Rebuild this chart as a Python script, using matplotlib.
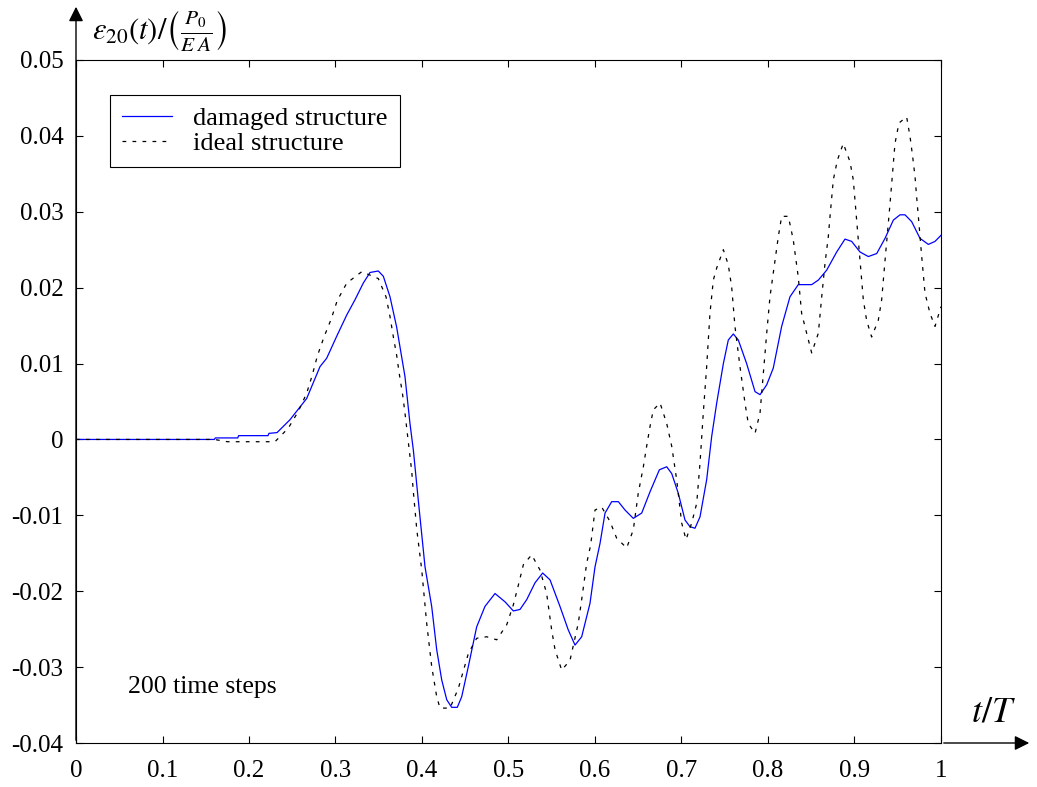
import matplotlib
matplotlib.use('Agg')

import matplotlib.pyplot as plt
from matplotlib.patches import FancyArrowPatch
import numpy as np

plt.rcParams['font.family'] = ['Liberation Serif', 'DejaVu Serif']
plt.rcParams['mathtext.fontset'] = 'stix'

# damaged structure (blue solid)
t_dam = np.array([0, 0.16, 0.161, 0.187, 0.188, 0.222, 0.223, 0.2324, 0.2474, 0.2667,
                  0.2821, 0.2898, 0.3014, 0.313, 0.3225, 0.3321, 0.3399, 0.3495, 0.3553, 0.363,
                  0.3707, 0.3803, 0.3861, 0.39, 0.3957, 0.4035, 0.4112, 0.417, 0.4228, 0.4286,
                  0.4343, 0.4408, 0.4459, 0.4536, 0.4632, 0.4728, 0.4844, 0.496, 0.5056, 0.5133,
                  0.5211, 0.5306, 0.5395, 0.548, 0.5595, 0.5691, 0.5769, 0.5846, 0.5942, 0.6,
                  0.6058, 0.6116, 0.6193, 0.627, 0.6347, 0.6443, 0.654, 0.6636, 0.6744, 0.6829,
                  0.6887, 0.6963, 0.704, 0.7098, 0.7156, 0.7214, 0.7291, 0.7349, 0.7407, 0.7484,
                  0.7541, 0.7599, 0.7657, 0.7753, 0.785, 0.7908, 0.7985, 0.8061, 0.8158, 0.8254,
                  0.835, 0.8505, 0.8582, 0.8678, 0.8794, 0.889, 0.8967, 0.9064, 0.916, 0.9257,
                  0.9353, 0.9449, 0.9526, 0.9584, 0.9661, 0.9757, 0.9854, 0.9931, 1.0])
y_dam = np.array([0, 0, 0.0002, 0.0002, 0.0005, 0.0005, 0.0008, 0.0009, 0.0026, 0.0054,
                  0.0096, 0.0107, 0.0136, 0.0164, 0.0184, 0.0206, 0.0220, 0.0222, 0.0215, 0.0188,
                  0.0148, 0.0083, 0.0021, -0.0014, -0.0080, -0.0168, -0.0220, -0.0277, -0.0317, -0.0343,
                  -0.0353, -0.0353, -0.0339, -0.0299, -0.0247, -0.0220, -0.0203, -0.0214, -0.0226, -0.0224,
                  -0.0211, -0.0189, -0.0176, -0.0185, -0.0220, -0.0251, -0.0271, -0.0260, -0.0216, -0.0168,
                  -0.0137, -0.0097, -0.0082, -0.0082, -0.0093, -0.0104, -0.0097, -0.0069, -0.0040, -0.0036,
                  -0.0045, -0.0071, -0.0106, -0.0115, -0.0117, -0.0102, -0.0053, 0.0004, 0.0048, 0.0100,
                  0.0131, 0.0139, 0.0131, 0.0100, 0.0063, 0.0059, 0.0072, 0.0094, 0.0149, 0.0188,
                  0.0204, 0.0204, 0.0210, 0.0223, 0.0247, 0.0264, 0.0261, 0.0247, 0.0241, 0.0245,
                  0.0265, 0.0289, 0.0296, 0.0296, 0.0287, 0.0265, 0.0257, 0.0261, 0.0269])

# ideal structure (black dashed)
t_ide = np.array([0, 0.16, 0.175, 0.23, 0.2455, 0.257, 0.2667, 0.2732, 0.279, 0.2867,
                  0.2948, 0.302, 0.313, 0.3303, 0.3495, 0.3584, 0.363, 0.3669, 0.3707, 0.3738,
                  0.3776, 0.3803, 0.383, 0.3854, 0.3881, 0.39, 0.394, 0.3997, 0.4054, 0.4112,
                  0.417, 0.4208, 0.4324, 0.442, 0.4536, 0.4632, 0.4748, 0.4864, 0.498, 0.5056,
                  0.5114, 0.5172, 0.5268, 0.5364, 0.5441, 0.5499, 0.5538, 0.5615, 0.5711, 0.5807,
                  0.5846, 0.5904, 0.595, 0.6, 0.6077, 0.6173, 0.625, 0.6366, 0.6443, 0.650,
                  0.6559, 0.6597, 0.6636, 0.6674, 0.6752, 0.6829, 0.6887, 0.6944, 0.7002, 0.7052,
                  0.7118, 0.7176, 0.7214, 0.7252, 0.7291, 0.7329, 0.7368, 0.7407, 0.7484, 0.7541,
                  0.758, 0.7618, 0.7676, 0.7734, 0.7772, 0.785, 0.7908, 0.7946, 0.7985, 0.8023,
                  0.8061, 0.8119, 0.8158, 0.8235, 0.8292, 0.835, 0.8389, 0.8447, 0.8505, 0.8582,
                  0.8621, 0.8659, 0.8697, 0.8717, 0.8755, 0.8802, 0.887, 0.8948, 0.8986, 0.9025,
                  0.9083, 0.9102, 0.914, 0.9198, 0.9275, 0.9314, 0.9353, 0.9411, 0.9449, 0.9468,
                  0.9514, 0.9603, 0.9642, 0.9672, 0.97, 0.9718, 0.9738, 0.9777, 0.9815, 0.9873,
                  0.9931, 1.0])
y_ide = np.array([0, 0, -0.0003, -0.0003, 0.0015, 0.0037, 0.0061, 0.0085, 0.0110, 0.0135,
                  0.0158, 0.0183, 0.0206, 0.0221, 0.0212, 0.0188, 0.0162, 0.0135, 0.0111, 0.0086,
                  0.0059, 0.0035, 0.0008, -0.0016, -0.0042, -0.0069, -0.0119, -0.0172, -0.0242, -0.0299,
                  -0.0339, -0.0354, -0.0354, -0.0328, -0.0282, -0.0262, -0.0260, -0.0264, -0.0244, -0.0218,
                  -0.0192, -0.0165, -0.0152, -0.0172, -0.0203, -0.0251, -0.0277, -0.0304, -0.0291, -0.0242,
                  -0.0211, -0.0163, -0.0139, -0.0093, -0.0089, -0.0108, -0.0130, -0.0143, -0.0119, -0.0071,
                  -0.0036, -0.0009, 0.0017, 0.0039, 0.0048, 0.0021, -0.0009, -0.0053, -0.0110, -0.0132,
                  -0.0110, -0.0084, -0.0031, 0.0035, 0.0096, 0.0166, 0.0210, 0.0226, 0.0250, 0.0230,
                  0.0201, 0.0149, 0.0096, 0.0048, 0.0021, 0.0008, 0.0035, 0.0087, 0.0140, 0.0188,
                  0.0219, 0.0267, 0.0294, 0.0294, 0.0263, 0.0214, 0.0166, 0.0140, 0.0114, 0.0140,
                  0.0188, 0.0232, 0.0267, 0.0294, 0.0342, 0.0368, 0.0390, 0.0366, 0.0342, 0.0289,
                  0.0210, 0.0184, 0.0157, 0.0135, 0.0157, 0.0184, 0.0236, 0.0311, 0.0364, 0.0390,
                  0.0417, 0.0425, 0.0399, 0.0373, 0.0346, 0.0320, 0.0294, 0.0241, 0.0193, 0.0166,
                  0.0149, 0.0175])

xticks = [0, 0.1, 0.2, 0.3, 0.4, 0.5, 0.6, 0.7, 0.8, 0.9, 1]
xticklabels = ['0', '0.1', '0.2', '0.3', '0.4', '0.5', '0.6', '0.7', '0.8', '0.9', '1']
yticks = [-0.04, -0.03, -0.02, -0.01, 0, 0.01, 0.02, 0.03, 0.04, 0.05]
yticklabels = ['-0.04', '-0.03', '-0.02', '-0.01', '0', '0.01', '0.02', '0.03', '0.04', '0.05']

W, H = 1037, 787
fig = plt.figure(figsize=(W / 100, H / 100), dpi=100)
ax = fig.add_axes([76 / W, 1 - 743 / H, (941 - 76) / W, (743 - 60) / H])

ax.plot(t_dam, y_dam, color='#0000ff', lw=0.9, label='damaged structure')
ax.plot(t_ide, y_ide, color='black', lw=0.9, dashes=(3, 5), label='ideal structure')

ax.set_xlim(0, 1)
ax.set_ylim(-0.04, 0.05)
ax.set_xticks(xticks)
ax.set_xticklabels(xticklabels)
ax.set_yticks(yticks)
ax.set_yticklabels(yticklabels)
ax.tick_params(direction='in', length=5, width=0.8, top=True, right=True,
               labelsize=18)
ax.tick_params(axis='x', pad=12)
ax.tick_params(axis='y', pad=9)
for s in ax.spines.values():
    s.set_linewidth(0.8)

leg = ax.legend(loc='upper left', bbox_to_anchor=((110 - 76) / 865, (743 - 95) / 683),
                borderaxespad=0, fancybox=False, edgecolor='black', fontsize=19,
                handlelength=1.9, handletextpad=0.8, labelspacing=0.05,
                borderpad=0.45, framealpha=1)
leg.get_frame().set_linewidth(0.8)

ax.text(0.06, -0.0326, '200 time steps', fontsize=18.5, va='center', ha='left')

# axis arrows
fig.add_artist(FancyArrowPatch((76 / W, 1 - 743 / H), (76 / W, 1 - 4 / H),
                               transform=fig.transFigure, arrowstyle='-|>',
                               mutation_scale=22, lw=1.0, color='black'))
fig.add_artist(FancyArrowPatch((941 / W, 1 - 743 / H), (1032 / W, 1 - 743 / H),
                               transform=fig.transFigure, arrowstyle='-|>',
                               mutation_scale=22, lw=1.0, color='black'))

fig.text(92 / W, 1 - 31 / H, r'$\varepsilon_{20}(t)/\left(\frac{P_0}{E\;A}\right)$',
         fontsize=22, ha='left', va='center')
fig.text(993 / W, 1 - 713 / H, r'$t/T$', fontsize=26, ha='center', va='center')

fig.savefig('out.png', dpi=100)
